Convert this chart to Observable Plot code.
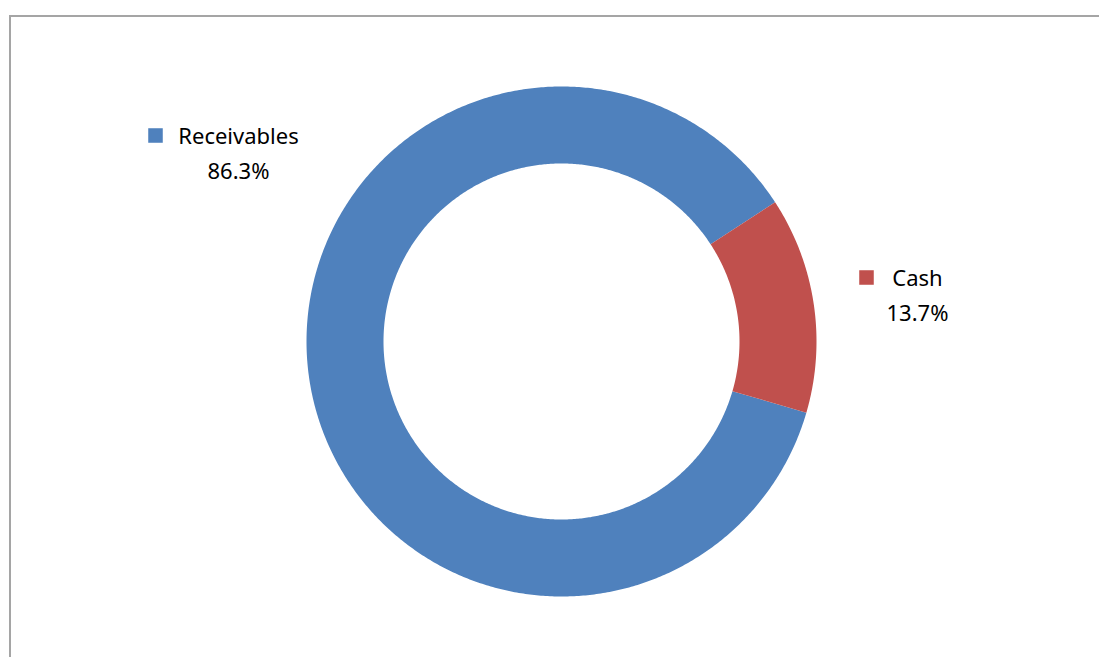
<!DOCTYPE html>
<html><head><meta charset="utf-8">
<script src="https://cdn.jsdelivr.net/npm/d3@7"></script>
<script src="https://cdn.jsdelivr.net/npm/@observablehq/plot@0.6"></script>
<style>
html,body{margin:0;padding:0;background:#fff;overflow:hidden}
#wrap{position:relative;width:1099px;height:657px}
#frame{position:absolute;left:9px;top:15px;width:1200px;height:800px;border-left:2px solid #a5a5a5;border-top:2px solid #a5a5a5;pointer-events:none}
#chart{position:absolute;left:0;top:0}
</style></head><body><div id="wrap"><div id="chart"></div><div id="frame"></div></div>
<script>
// ---- data ----
const categories = ["Receivables", "Cash"];
const shares = [86.3, 13.7];
const colors = ["#4f81bd", "#c0504d"];

// ---- layout (pixels) ----
const W = 1099, H = 657;
const cx = 561, cy = 341, R = 255, r0 = 178;
const startDeg = 106.2; // clockwise from north
const labelLayout = {
  Receivables: {x: 238, y: 136, kx: 155, ky: 135},
  Cash: {x: 917, y: 278.5, kx: 866, ky: 277}
};

const data = categories.map((c, i) => ({cat: c, value: shares[i]}));
const total = d3.sum(shares);
const pts = [];
let acc = startDeg * Math.PI / 180;
for (const d of data) {
  const span = d.value / total * 2 * Math.PI;
  const n = Math.max(8, Math.ceil(span / (Math.PI / 360)));
  const a0 = acc, a1 = acc + span;
  for (let k = 0; k <= n; k++) {
    const a = a0 + (a1 - a0) * k / n;
    pts.push({cat: d.cat, x: cx + R * Math.sin(a), y: cy - R * Math.cos(a)});
  }
  for (let k = n; k >= 0; k--) {
    const a = a0 + (a1 - a0) * k / n;
    pts.push({cat: d.cat, x: cx + r0 * Math.sin(a), y: cy - r0 * Math.cos(a)});
  }
  acc = a1;
}

const labels = data.map(d => ({...d, ...labelLayout[d.cat], pct: d.value.toFixed(1) + "%"}));

const chart = Plot.plot({
  width: W, height: H,
  margin: 0,
  x: {domain: [0, W], range: [0, W], axis: null},
  y: {domain: [0, H], range: [0, H], axis: null},
  color: {domain: categories, range: colors},
  style: {fontFamily: "'Noto Sans', sans-serif", background: "transparent"},
  marks: [
    Plot.line(pts, {x: "x", y: "y", z: "cat", fill: "cat", stroke: "none", curve: "linear-closed"}),
    Plot.dot(labels, {x: "kx", y: "ky", symbol: "square", r: 8.2, fill: "cat", stroke: "none"}),
    Plot.text(labels, {x: "x", y: "y", text: "cat", fontSize: 22, fill: "#000", textAnchor: "middle"}),
    Plot.text(labels, {x: "x", y: "y", dy: 35, text: "pct", fontSize: 22, fill: "#000", textAnchor: "middle"})
  ]
});
document.getElementById("chart").appendChild(chart);
</script>
</body></html>
